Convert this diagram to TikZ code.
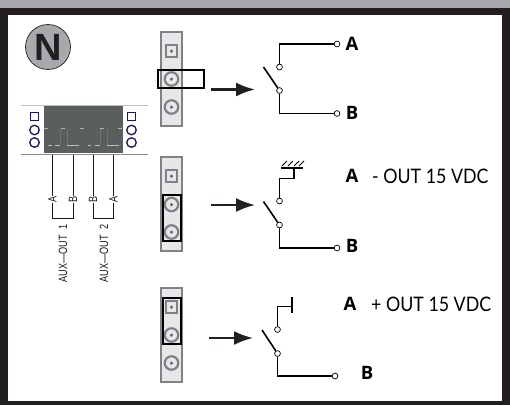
\documentclass[tikz,border=0pt]{standalone}
\usepackage{fontspec}
\setmainfont{Open Sans}
\newfontfamily\auxfont[FakeStretch=0.76]{Liberation Sans}
\newfontfamily\nfont{Liberation Sans}
\newfontfamily\outfont[FakeStretch=0.89]{Lato}
\usetikzlibrary{arrows.meta}
\definecolor{framedk}{HTML}{231F20}
\definecolor{framegr}{HTML}{A7A9AC}
\definecolor{stripfill}{HTML}{E6E7E8}
\definecolor{stripedge}{HTML}{808285}
\definecolor{navy}{HTML}{1B1464}
\definecolor{plug}{HTML}{5A5E5C}
\tikzset{
  x=1pt,y=-1pt,
  term/.style={circle,draw=black,fill=white,line width=0.7pt,minimum size=5.8pt,inner sep=0pt},
  wire/.style={draw=black,line width=1.5pt},
  blade/.style={draw=black,line width=1.6pt},
  strip/.style={draw=stripedge,fill=stripfill,line width=2.4pt,minimum width=21pt,minimum height=94pt,inner sep=0pt},
  pinring/.style={circle,draw=stripedge,fill=stripfill,line width=2.2pt,minimum size=13.5pt,inner sep=0pt},
  pinsq/.style={rectangle,draw=stripedge,fill=stripfill,line width=2.2pt,minimum size=11.5pt,inner sep=0pt},
  pindot/.style={circle,fill=stripedge!80!black,minimum size=3.5pt,inner sep=0pt},
  sel/.style={draw=black,line width=2.2pt},
  bigarrow/.style={draw=framedk,line width=2.2pt,-{Latex[length=19pt,width=14pt]}},
  lbl/.style={font=\fontsize{18.5}{18.5}\selectfont\bfseries,text=black,inner sep=0pt},
  outlbl/.style={font=\outfont\fontsize{20}{20}\selectfont,text=black,inner sep=0pt,anchor=west},
  padsq/.style={rectangle,draw=navy,line width=1.3pt,minimum size=8.5pt,inner sep=0pt},
  padc/.style={circle,draw=navy,line width=1.3pt,minimum size=9.5pt,inner sep=0pt},
  thin wire/.style={draw=black!90,line width=0.7pt},
  auxl/.style={font=\auxfont\fontsize{12}{12}\selectfont,rotate=90,text=black!90,inner sep=0pt},
}
\newcommand{\pinset}[4]{%
  \node[strip] at (171.5,#1) {};
  \node[pinsq] at (171.5,#2) {};
  \node[pindot] at (171.5,#2) {};
  \node[pinring] at (171.5,#3) {};
  \node[pindot] at (171.5,#3) {};
  \node[pinring] at (171.5,#4) {};
  \node[pindot] at (171.5,#4) {};
}
\begin{document}
\begin{tikzpicture}
\useasboundingbox (0,0) rectangle (510,405);
% frame
\fill[white] (0,0) rectangle (510,405);
\fill[framegr] (0,0) rectangle (510,7.5);
\fill[framedk] (0,7.5) rectangle (510,15);
\fill[framedk] (0,7.5) rectangle (8,405);
\fill[framedk] (502,7.5) rectangle (510,405);
\fill[framedk] (0,400.5) rectangle (510,405);
% N badge
\node[circle,draw=framedk,fill=framegr,line width=0.7pt,minimum size=45pt,inner sep=0pt,
  font=\nfont\fontsize{38}{38}\selectfont\bfseries,text=framedk] (badge) at (48,47) {N};
% connector
\draw[black!25,line width=0.6pt] (21,105) -- (148,105);
\draw[black!45,line width=1pt] (21,154) -- (148,154);
\fill[plug] (43.5,106) rectangle (123,153);
\foreach \x in {46,63,82,102,120}{\fill[black!30] (\x-1.8,127.5) rectangle (\x+1.8,129);}
\draw[black!55,line width=0.8pt] (60,129) -- (60,145) (67,129) -- (67,145) (100,129) -- (100,145) (107,129) -- (107,145);
\draw[black!25,line width=1pt] (48,145) -- (52,145) (55,145) -- (60,145) (67,145) -- (79,145) (88,145) -- (91,145) (95,145) -- (100,145) (107,145) -- (119,145);
\node[padsq] (p1) at (34.5,116.5) {};
\node[padc] (p2) at (34.5,130) {};
\node[padc] (p3) at (34.5,142.5) {};
\node[padsq] (p4) at (131.5,116.5) {};
\node[padc] (p5) at (131.5,130) {};
\node[padc] (p6) at (131.5,142.5) {};
% AUX leads
\coordinate (l1) at (52.5,154.5);
\coordinate (l2) at (73,154.5);
\coordinate (l3) at (93,154.5);
\coordinate (l4) at (113.5,154.5);
\node[auxl] (a1) at (52.5,199.5) {A};
\node[auxl] (b1) at (73,199.5) {B};
\node[auxl] (b2) at (93,199.5) {B};
\node[auxl] (a2) at (113.5,199.5) {A};
\draw[thin wire] (l1) -- (a1.east);
\draw[thin wire] (l2) -- (b1.east);
\draw[thin wire] (l3) -- (b2.east);
\draw[thin wire] (l4) -- (a2.east);
\draw[thin wire] (a1.west) -- (52.5,218) -- (73,218) -- (b1.west);
\draw[thin wire] (b2.west) -- (93,218) -- (113.5,218) -- (a2.west);
\node[auxl] (o1) at (63,253.5) {AUX—OUT\ \ 1};
\node[auxl] (o2) at (104,253.5) {AUX—OUT\ \ 2};
% strip 1
\pinset{79}{51}{79}{107}
\draw[sel] (158,70) rectangle (204,88);
\coordinate (as1) at (211,89.5); \coordinate (ae1) at (255,89.5);
\draw[bigarrow] (as1) -- (ae1);
\node[term] (u1) at (279.5,67) {};
\node[term] (v1) at (279.5,90.5) {};
\node[term] (ta1) at (337,44) {};
\node[term] (tb1) at (337,113.5) {};
\draw[wire] (u1) -- (279.5,44) -- (ta1);
\draw[wire] (v1) -- (279.5,113.5) -- (tb1);
\coordinate (bl1) at (263.5,67);
\draw[blade] (bl1) -- (v1);
\node[lbl] (A1) at (352,44) {A};
\node[lbl] (B1) at (352,113) {B};
% strip 2
\pinset{204}{176}{204.5}{232}
\draw[sel] (163,195) rectangle (181,241);
\coordinate (as2) at (211,205); \coordinate (ae2) at (255,205);
\draw[bigarrow] (as2) -- (ae2);
\node[term] (u2) at (279.5,201) {};
\node[term] (v2) at (279.5,225) {};
\node[term] (tb2) at (337,248) {};
\coordinate (g2) at (294,168);
\draw[wire] (u2) -- (279.5,178.5) -- (294,178.5) -- (g2);
\draw[wire] (v2) -- (279.5,248) -- (tb2);
\coordinate (bl2) at (263.5,201.5);
\draw[blade] (bl2) -- (v2);
\draw[black,line width=2.2pt] (281,168) -- (303,168);
\draw[black,line width=0.9pt] (282,166) -- (287,161) (288,166) -- (293,161) (294,166) -- (299,161) (299,166) -- (304,161);
\node[lbl] (A2) at (352,176) {A};
\node[lbl] (B2) at (352,246) {B};
\node[outlbl] (t2) at (372,176) {- OUT 15 VDC};
% strip 3
\pinset{335}{307}{335}{363}
\draw[sel] (163,298) rectangle (181,344);
\coordinate (as3) at (209,338); \coordinate (ae3) at (253,338);
\draw[bigarrow] (as3) -- (ae3);
\node[term] (u3) at (277.5,329.5) {};
\node[term] (v3) at (277.5,353.5) {};
\node[term] (tb3) at (335,376) {};
\coordinate (g3) at (292,306.5);
\draw[wire] (u3) -- (277.5,306.5) -- (g3);
\draw[wire] (v3) -- (277.5,376) -- (tb3);
\coordinate (bl3) at (262,330);
\draw[blade] (bl3) -- (v3);
\draw[black,line width=1.8pt] (292,296.5) -- (292,313);
\node[lbl] (A3) at (350,304) {A};
\node[lbl] (B3) at (367,373) {B};
\node[outlbl] (t3) at (371,304) {+ OUT 15 VDC};
\end{tikzpicture}
\end{document}
